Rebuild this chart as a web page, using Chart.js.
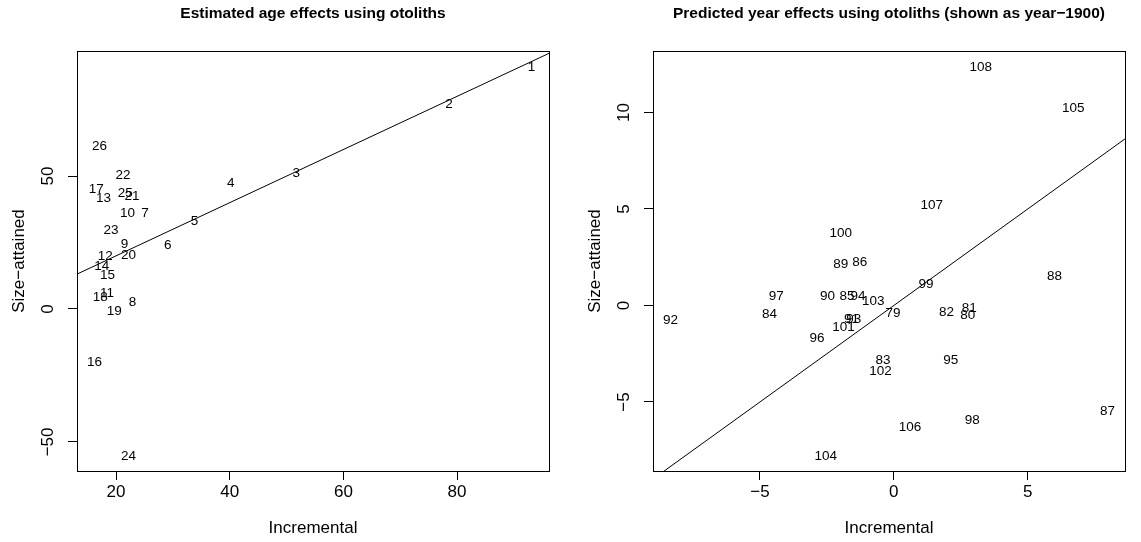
<!DOCTYPE html>
<html>
<head>
<meta charset="utf-8">
<script src="https://cdn.jsdelivr.net/npm/chart.js@4/dist/chart.umd.min.js"></script>
<style>
  html, body { margin: 0; padding: 0; background: #fff; }
  body { width: 1141px; height: 542px; position: relative; overflow: hidden; }
  canvas { position: absolute; top: 0; }
  #ageChart { left: 0; width: 570px; height: 542px; }
  #yearChart { left: 576px; width: 565px; height: 542px; }
</style>
</head>
<body>
<canvas id="ageChart" width="570" height="542"></canvas>
<canvas id="yearChart" width="565" height="542"></canvas>
<script>
// ---- Estimated age effects (ages 1-26) ----
const ageLabels = [1, 2, 3, 4, 5, 6, 7, 8, 9, 10, 11, 12, 13, 14, 15, 16, 17, 18, 19, 20, 21, 22, 23, 24, 25, 26];
const ageIncremental = [93.1, 78.6, 51.7, 40.2, 33.8, 29.1, 25.1, 22.9, 21.5, 22.0, 18.4, 18.1, 17.8,
                        17.5, 18.5, 16.2, 16.5, 17.2, 19.7, 22.2, 22.8, 21.2, 19.1, 22.2, 21.6, 17.1];
const ageSizeAttained = [91.2, 77.3, 51.4, 47.8, 33.4, 24.5, 36.5, 2.9, 24.9, 36.5, 6.5, 20.1, 42.2,
                         16.4, 13.0, -19.8, 45.6, 4.8, -0.3, 20.8, 42.8, 50.9, 29.9, -55.1, 44.1, 61.8];
const ageXTicks = [20, 40, 60, 80];
const ageYTicks = [-50, 0, 50];

// ---- Predicted year effects (year - 1900) ----
const yearLabels = [79, 80, 81, 82, 83, 84, 85, 86, 87, 88, 89, 90, 91, 92, 93, 94, 95, 96, 97, 98,
                    99, 100, 101, 102, 103, 104, 105, 106, 107, 108];
const yearIncremental = [-0.03, 2.76, 2.82, 1.97, -0.40, -4.64, -1.75, -1.27, 7.98, 6.00, -1.98, -2.48,
                         -1.58, -8.34, -1.50, -1.34, 2.13, -2.87, -4.39, 2.93, 1.20, -1.98, -1.88,
                         -0.50, -0.77, -2.54, 6.70, 0.60, 1.42, 3.25];
const yearSizeAttained = [-0.33, -0.43, -0.09, -0.28, -2.80, -0.41, 0.52, 2.28, -5.42, 1.55, 2.18, 0.52,
                          -0.64, -0.73, -0.66, 0.52, -2.76, -1.62, 0.52, -5.87, 1.18, 3.78, -1.07,
                          -3.37, 0.27, -7.77, 10.26, -6.25, 5.23, 12.38];
const yearXTicks = [-5, 0, 5];
const yearYTicks = [-5, 0, 5, 10];

// 1:1 reference line drawn on both panels
const refIntercept = 0;
const refSlope = 1;

const FONT = '"Liberation Sans", Arial, Helvetica, sans-serif';
Chart.defaults.font.family = FONT;
Chart.defaults.color = '#000';

// axis limits extend 4% beyond the data on each side
function paddedRange(vals) {
  const lo = Math.min(...vals), hi = Math.max(...vals);
  const d = (hi - lo) * 0.04;
  return [lo - d, hi + d];
}

const minusSign = v => String(v).replace('-', '\u2212');

// frame around the plotting region
const frame = {
  id: 'frame',
  afterDraw(chart) {
    const a = chart.chartArea, ctx = chart.ctx;
    ctx.save();
    ctx.strokeStyle = '#000';
    ctx.lineWidth = 1;
    ctx.strokeRect(Math.round(a.left) + 0.5, Math.round(a.top) + 0.5,
                   Math.round(a.right - a.left), Math.round(a.bottom - a.top));
    ctx.restore();
  }
};

// text labels drawn at each point position
const pointText = {
  id: 'pointText',
  afterDatasetsDraw(chart, args, opts) {
    const ctx = chart.ctx;
    chart.data.datasets.forEach((ds, di) => {
      if (!ds.pointText) return;
      const meta = chart.getDatasetMeta(di);
      ctx.save();
      ctx.font = opts.size + 'px ' + FONT;
      ctx.fillStyle = '#000';
      ctx.textAlign = 'center';
      ctx.textBaseline = 'alphabetic';
      meta.data.forEach((el, i) => {
        ctx.fillText(String(ds.pointText[i]), el.x, el.y + opts.size * 0.358);
      });
      ctx.restore();
    });
  }
};

function makePanel(id, title, xs, ys, texts, xTicks, yTicks, yTickPad, rightPad) {
  const [xMin, xMax] = paddedRange(xs);
  const [yMin, yMax] = paddedRange(ys);
  const axisFont = { size: 17 };
  return new Chart(document.getElementById(id), {
    type: 'scatter',
    data: {
      datasets: [
        {
          type: 'line',
          data: [
            { x: xMin, y: refIntercept + refSlope * xMin },
            { x: xMax, y: refIntercept + refSlope * xMax }
          ],
          borderColor: '#000',
          borderWidth: 1,
          pointRadius: 0,
          pointHoverRadius: 0,
          fill: false,
          tension: 0,
          clip: 0
        },
        {
          data: xs.map((x, i) => ({ x: x, y: ys[i] })),
          pointRadius: 0,
          pointHoverRadius: 0,
          pointText: texts
        }
      ]
    },
    plugins: [frame, pointText],
    options: {
      responsive: false,
      animation: false,
      devicePixelRatio: 1,
      events: [],
      layout: { padding: { left: 0, right: rightPad, top: 0, bottom: 0 } },
      plugins: {
        legend: { display: false },
        tooltip: { enabled: false },
        pointText: { size: 13.5 },
        title: {
          display: true,
          text: title,
          fullSize: false,
          color: '#000',
          font: { size: 15.5, weight: 'bold', family: FONT },
          padding: { top: 4.4, bottom: 28 }
        }
      },
      scales: {
        x: {
          type: 'linear',
          min: xMin,
          max: xMax,
          afterBuildTicks: s => { s.ticks = xTicks.map(v => ({ value: v })); },
          afterFit: s => { s.height = 71; },
          grid: { drawOnChartArea: false, drawTicks: true, tickLength: 9, color: '#000', lineWidth: 1 },
          border: { display: true, color: '#000', width: 1 },
          ticks: { autoSkip: false, maxRotation: 0, minRotation: 0, padding: 2.1, font: axisFont, color: '#000',
                   callback: v => minusSign(v) },
          title: { display: true, text: 'Incremental', font: axisFont, color: '#000', padding: { top: 0, bottom: 3 } }
        },
        y: {
          type: 'linear',
          min: yMin,
          max: yMax,
          afterBuildTicks: s => { s.ticks = yTicks.map(v => ({ value: v })); },
          afterFit: s => { s.width = 77; },
          grid: { drawOnChartArea: false, drawTicks: true, tickLength: 9, color: '#000', lineWidth: 1 },
          border: { display: true, color: '#000', width: 1 },
          ticks: { autoSkip: false, minRotation: 90, maxRotation: 90, crossAlign: 'center', padding: yTickPad,
                   font: axisFont, color: '#000', callback: v => minusSign(v) },
          title: { display: true, text: 'Size\u2212attained', font: axisFont, color: '#000', padding: { top: 9, bottom: 0 } }
        }
      }
    }
  });
}

makePanel('ageChart', 'Estimated age effects using otoliths',
          ageIncremental, ageSizeAttained, ageLabels, ageXTicks, ageYTicks, 5, 21);
makePanel('yearChart', 'Predicted year effects using otoliths (shown as year\u22121900)',
          yearIncremental, yearSizeAttained, yearLabels, yearXTicks, yearYTicks, 9.7, 16);
</script>
</body>
</html>
